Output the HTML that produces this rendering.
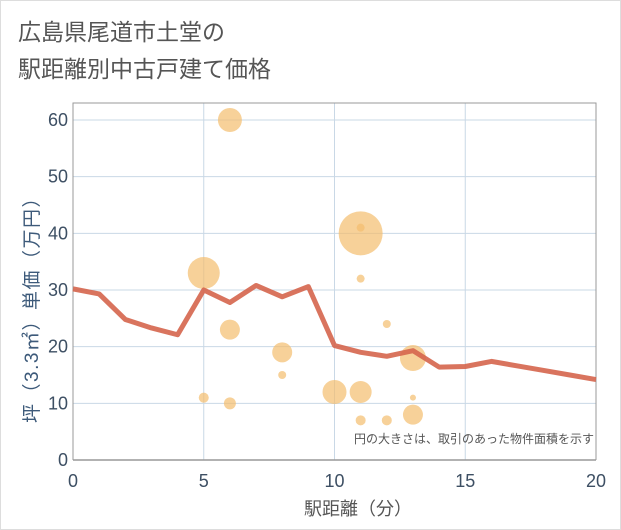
<!DOCTYPE html>
<html><head><meta charset="utf-8"><style>
body{margin:0;background:#fff;}
svg{display:block;font-family:"Liberation Sans","Noto Sans CJK JP",sans-serif;}
</style></head><body>
<svg id="c" width="621" height="530">
<rect x="0.5" y="0.5" width="620" height="529" fill="#fff" stroke="#ddd"/>
<text x="18" y="40" font-size="23" fill="#555">広島県尾道市土堂の</text>
<text x="18" y="77" font-size="23" fill="#555">駅距離別中古戸建て価格</text>
<g id="grid"></g>
<g id="marks"></g>
<text x="594" y="443" font-size="12" fill="#555" text-anchor="end">円の大きさは、取引のあった物件面積を示す</text>
<text x="358" y="515" font-size="18" fill="#555" text-anchor="middle">駅距離（分）</text>
<text transform="translate(38,305) rotate(-90)" font-size="19" letter-spacing="1.5" fill="#3d5a7a" text-anchor="middle">坪（3.3㎡）単価（万円）</text>
</svg>
<script>
const xTicks=[0,5,10,15,20];
const yTicks=[0,10,20,30,40,50,60];
const lineX=[0,1,2,3,4,5,6,7,8,9,10,11,12,13,14,15,16,17,18,19,20];
const lineY=[30.2,29.3,24.8,23.3,22.1,30,27.8,30.8,28.8,30.6,20.2,19,18.3,19.3,16.4,16.5,17.4,16.6,15.8,15,14.2];
const bubX=[6,5,6,8,8,5,6,10,11,11,11,11,11,12,12,13,13,13];
const bubY=[60,33,23,19,15,11,10,12,40,41,32,12,7,24,7,18,11,8];
const bubR=[12,16,10,10,4,5,6,12,22,4,4,11,5,4,5,13,3,10];
const X0=73,X1=596,Y0=460,Y1=103;
const sx=v=>X0+(X1-X0)*v/20, sy=v=>Y0-(Y0-120)*v/60;
const NS='http://www.w3.org/2000/svg';
const g=document.getElementById('grid'), m=document.getElementById('marks');
function mk(t,a,p){const e=document.createElementNS(NS,t);for(const k in a)e.setAttribute(k,a[k]);p.appendChild(e);return e;}
xTicks.forEach(v=>{
 const l=mk('line',{x1:sx(v),x2:sx(v),y1:Y1,y2:Y0,stroke:'#c9d8e6','stroke-width':1},g);
 
 
 const t=mk('text',{x:sx(v),y:Y0+27,'font-size':18,fill:'#3d4f63','text-anchor':'middle'},g);t.textContent=v;
 
 
});
yTicks.forEach(v=>{
 const l=mk('line',{x1:X0,x2:X1,y1:sy(v),y2:sy(v),stroke:'#c9d8e6','stroke-width':1},g);
 
 
 const t=mk('text',{x:X0-5,y:sy(v)+6,'font-size':18,fill:'#3d4f63','text-anchor':'end'},g);t.textContent=v;
 
 
});
const fr=mk('path',{d:`M${X0},${Y0}V${Y1}H${X1}V${Y0}`,fill:'none',stroke:'#999','stroke-width':1},g);


const ax=mk('line',{x1:X0,x2:X1,y1:Y0,y2:Y0,stroke:'#999','stroke-width':1.5},g);


bubX.forEach((x,i)=>{
 const c=mk('circle',{cx:sx(x),cy:sy(bubY[i]),r:bubR[i],fill:'rgba(243,190,110,0.7)'},m);
 
 
});
const p=mk('polyline',{points:lineX.map((x,i)=>sx(x)+','+sy(lineY[i])).join(' '),fill:'none',stroke:'#d5654c','stroke-width':5,'stroke-linejoin':'round',opacity:0.9},m);


</script>
</body></html>
